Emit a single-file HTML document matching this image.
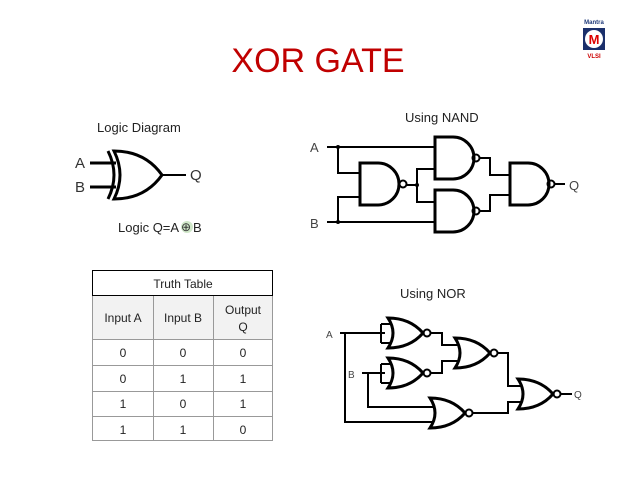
<!DOCTYPE html>
<html><head><style>
body{margin:0;background:#fff;}
svg text{font-family:"Liberation Sans",sans-serif;}
.c{font-family:"Liberation Sans",sans-serif;}
</style></head><body>
<svg width="638" height="479" viewBox="0 0 638 479" xmlns="http://www.w3.org/2000/svg">
<rect width="638" height="479" fill="#fff"/>
<text x="318" y="72" font-size="34" fill="#c00000" text-anchor="middle">XOR GATE</text>
<!-- logo -->
<text x="594" y="24" font-size="6" font-weight="bold" fill="#1f3a7a" text-anchor="middle">Mantra</text>
<rect x="583" y="28" width="22" height="22" fill="#1a2f6b"/>
<circle cx="594" cy="39" r="9" fill="#fff"/>
<text x="594" y="44" font-size="13" font-weight="bold" fill="#d00" text-anchor="middle">M</text>
<text x="594" y="58" font-size="6" font-weight="bold" fill="#c00" text-anchor="middle">VLSI</text>

<g font-size="13" fill="#222">
<text x="97" y="132">Logic Diagram</text>
<text x="405" y="122">Using  NAND</text>
<text x="400" y="298">Using NOR</text>
<text x="118" y="232">Logic Q=A</text>
<circle cx="187" cy="227" r="6" fill="#cfe6c8"/>
<text x="181" y="231" font-size="12" fill="#333">⊕</text>
<text x="193" y="232">B</text>
</g>

<!-- XOR -->
<g stroke="#000" stroke-width="3" fill="none">
<line x1="90" y1="163" x2="116" y2="163"/><line x1="90" y1="187" x2="116" y2="187"/>
<path d="M108 151 Q120 175 108 199"/>
<path d="M114 151 Q126 175 114 199 Q145 199 162 175 Q145 151 114 151Z"/>
<line x1="162" y1="175" x2="186" y2="175" stroke-width="2"/>
</g>
<g font-size="15" fill="#333"><text x="75" y="168">A</text><text x="75" y="192">B</text><text x="190" y="180">Q</text></g>

<!-- NAND diagram -->
<defs>
<path id="nand" d="M0 0 H18 A21 21 0 0 1 18 42 H0 Z" />
<path id="nor" d="M0 0 Q10 15 0 30 Q22 30 35 15 Q22 0 0 0Z"/>
</defs>
<g stroke="#000" stroke-width="2" fill="none">
<use href="#nand" x="360" y="163" stroke-width="3"/>
<use href="#nand" x="435" y="137" stroke-width="3"/>
<use href="#nand" x="435" y="190" stroke-width="3"/>
<use href="#nand" x="510" y="163" stroke-width="3"/>
<circle cx="403" cy="184" r="3.5"/><circle cx="476" cy="158" r="3.5"/><circle cx="476" cy="211" r="3.5"/><circle cx="551" cy="184" r="3.5"/>
<path d="M327 147 H435 M338 147 V173 H360 M327 222 H435 M338 222 V197 H360 M407 185 H417 M435 169 H417 V202 H435"/>
<path d="M480 158 H490 V175 H510 M480 211 H490 V195 H510 M555 184 H565"/>
</g>
<circle cx="338" cy="147" r="2"/><circle cx="338" cy="222" r="2"/><circle cx="417" cy="185" r="2"/>
<g font-size="13" fill="#444"><text x="310" y="152">A</text><text x="310" y="228">B</text><text x="569" y="190">Q</text></g>

<!-- NOR diagram -->
<g stroke="#000" stroke-width="2" fill="none">
<use href="#nor" x="388" y="318" stroke-width="3"/>
<use href="#nor" x="388" y="358" stroke-width="3"/>
<use href="#nor" x="455" y="338" stroke-width="3"/>
<use href="#nor" x="430" y="398" stroke-width="3"/>
<use href="#nor" x="518" y="379" stroke-width="3"/>
<circle cx="427" cy="333" r="3.5"/><circle cx="427" cy="373" r="3.5"/><circle cx="494" cy="353" r="3.5"/><circle cx="469" cy="413" r="3.5"/><circle cx="557" cy="394" r="3.5"/>
<path d="M381 324 H391 M381 343 H391 M381 324 V343 M381 364 H391 M381 383 H391 M381 364 V383"/>
<path d="M340 333 H385 M345 333 V422 H433 M362 373 H385 M368 373 V407 H433"/>
<path d="M431 333 H442 V345 H458 M431 373 H442 V361 H458 M498 353 H508 V386 H521 M473 413 H508 V402 H521 M561 394 H572"/>
</g>
<g font-size="10" fill="#444"><text x="326" y="338">A</text><text x="348" y="378">B</text><text x="574" y="398">Q</text></g>

<!-- table -->
<g stroke="#999" stroke-width="1" fill="none">
<rect x="92.5" y="295.5" width="180" height="44" fill="#f2f2f2"/>
<rect x="92.5" y="270.5" width="180" height="170"/>
<path d="M92 339.5 H273 M92 365.5 H273 M92 391.5 H273 M92 416.5 H273 M153.5 295 V441 M213.5 295 V441"/>
</g>
<rect x="92.5" y="270.5" width="180" height="25" fill="none" stroke="#000" stroke-width="1"/>
<g font-size="12" fill="#222" text-anchor="middle">
<text x="183" y="288">Truth Table</text>
<text x="123" y="322">Input A</text><text x="183" y="322">Input B</text>
<text x="243" y="314">Output</text><text x="243" y="331">Q</text>
<text x="123" y="357">0</text><text x="183" y="357">0</text><text x="243" y="357">0</text>
<text x="123" y="383">0</text><text x="183" y="383">1</text><text x="243" y="383">1</text>
<text x="123" y="408">1</text><text x="183" y="408">0</text><text x="243" y="408">1</text>
<text x="123" y="434">1</text><text x="183" y="434">1</text><text x="243" y="434">0</text>
</g>
</svg>
</body></html>
